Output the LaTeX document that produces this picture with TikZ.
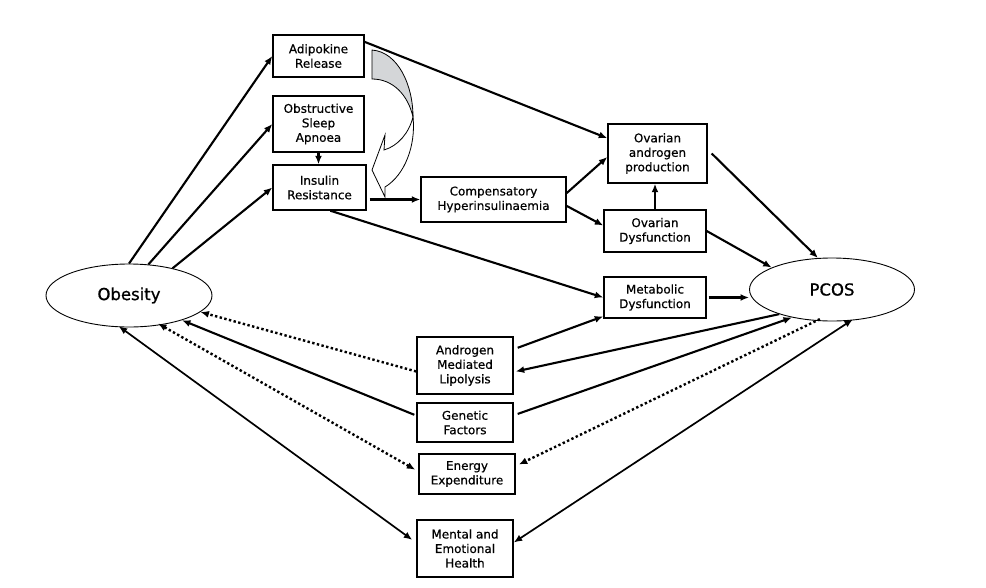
\documentclass[tikz,border=0pt]{standalone}
\usepackage{xcolor}
\usepackage{fontspec}
\setmainfont{DejaVu Sans}
\newfontfamily\boxfont{DejaVu Sans}[FakeBold=0.6]
\newfontfamily\blobfont{DejaVu Sans}[FakeBold=0.9]
\usepackage{tikz}
\usetikzlibrary{arrows.meta,shapes.geometric,calc}
\definecolor{FoldGrey}{HTML}{D4D6D8}

\begin{document}
\begin{tikzpicture}[x=1pt, y=-1pt,
    box/.style={draw, line width=1.4pt, align=center, inner sep=1pt,
      font=\boxfont\fontsize{12}{14.5}\selectfont},
    blob/.style={draw, ellipse, line width=0.9pt, inner sep=0pt,
      minimum width=166pt, minimum height=63pt, font=\blobfont\fontsize{16.5}{18}\selectfont},
    arrow/.style={-{Latex[length=8.5pt,width=7pt]}, line width=2.1pt},
    twoway/.style={{Latex[length=8.5pt,width=7pt]}-{Latex[length=8.5pt,width=7pt]}, line width=1.7pt},
    dotty/.style={line width=2.4pt, dash pattern=on 2.4pt off 2.4pt}
  ]
    \useasboundingbox (0,0) rectangle (986,587);
    % the two conditions
    \node[blob] (obesity) at (129,295.5) {Obesity};
    \node[blob, minimum width=165pt] (pcos) at (832,289.5) {PCOS};
    % upper chain
    \node[box, minimum width=91pt, minimum height=42pt] (adipo) at (318.5,56) {Adipokine\\Release};
    \node[box, minimum width=91pt, minimum height=56pt] (osa) at (318.5,124) {Obstructive\\Sleep\\Apnoea};
    \node[box, minimum width=93pt, minimum height=45pt] (insulin) at (319.5,187.5) {Insulin\\Resistance};
    \node[box, minimum width=145pt, minimum height=45pt] (hyper) at (493.5,199.5) {Compensatory\\Hyperinsulinaemia};
    \node[box, minimum width=99pt, minimum height=59pt] (androgen) at (657.5,153.5) {Ovarian\\androgen\\production};
    \node[box, minimum width=102pt, minimum height=42pt] (ovdys) at (655,231) {Ovarian\\Dysfunction};
    \node[box, minimum width=102pt, minimum height=41pt] (metab) at (655,297.5) {Metabolic\\Dysfunction};
    % lower column
    \node[box, minimum width=96pt, minimum height=57pt] (lipo) at (465,365.5) {Androgen\\Mediated\\Lipolysis};
    \node[box, minimum width=96pt, minimum height=39pt] (genes) at (465,422.5) {Genetic\\Factors};
    \node[box, minimum width=96pt, minimum height=40pt] (energy) at (467,474) {Energy\\Expenditure};
    \node[box, minimum width=96pt, minimum height=57pt] (mental) at (465,548.5) {Mental and\\Emotional\\Health};

    % curved block arrow from adipokines to insulin resistance
    \draw[line width=0.8pt, fill=FoldGrey] (372,50) .. controls (398,52) and (413,85) .. (413,117)
      .. controls (408,95) and (393,79) .. (372,79) -- cycle;
    \draw[line width=0.8pt, fill=white] (413,117) .. controls (416,145) and (405,175) .. (385,187)
      -- (385,197) -- (372,170) -- (385,135) -- (384,150)
      .. controls (398,146) and (409,133) .. (413,117) -- cycle;

    \draw[arrow] (obesity.90) -- (adipo.west);
    \draw[arrow] (obesity.58) -- (osa.west);
    \draw[arrow] (obesity.32) -- (insulin.west);
    \draw[arrow] (osa.south) -- (osa.south |- insulin.north);
    \draw[arrow] ([xshift=3pt]hyper.west -| insulin.east) -- (hyper.west);
    \draw[arrow] (adipo.17) -- (androgen.163);
    \draw[arrow] (hyper.5) -- (androgen.184);
    \draw[arrow] (hyper.-5) -- (ovdys.174);
    \draw[arrow] (ovdys.north) -- (ovdys.north |- androgen.south);
    \draw[arrow] (insulin.-65) -- (metab.west);
    \draw[arrow] ([xshift=4pt]androgen.east) -- (pcos.114);
    \draw[arrow] (ovdys.east) -- (pcos.160);
    \draw[arrow] ([xshift=2pt]metab.east) -- (metab.east -| pcos.west);
    \draw[arrow] ([xshift=4pt]lipo.20) -- (metab.200);
    \draw[arrow] (pcos.205) -- ([xshift=2pt]lipo.-7);
    \draw[arrow] ([xshift=4pt]genes.10) -- (pcos.215);
    \draw[arrow] ([xshift=-2pt]genes.171) -- (obesity.-25);
    \draw[dotty, -{Latex[length=8.5pt,width=7pt]}] ([yshift=2pt]pcos.249) -- ([xshift=3pt]energy.11);
    \draw[dotty, -{Latex[length=8.5pt,width=7pt]}] (lipo.187) -- (obesity.-13);
    \draw[dotty, {Latex[length=8.5pt,width=7pt]}-{Latex[length=8.5pt,width=7pt]}] ([yshift=2pt]obesity.-46) -- ([xshift=-3pt]energy.175);
    \draw[twoway] ([yshift=1pt]obesity.252) -- ([xshift=-4pt]mental.170);
    \draw[twoway] ([yshift=1pt]pcos.-56) -- (mental.7);
  \end{tikzpicture}
\end{document}
